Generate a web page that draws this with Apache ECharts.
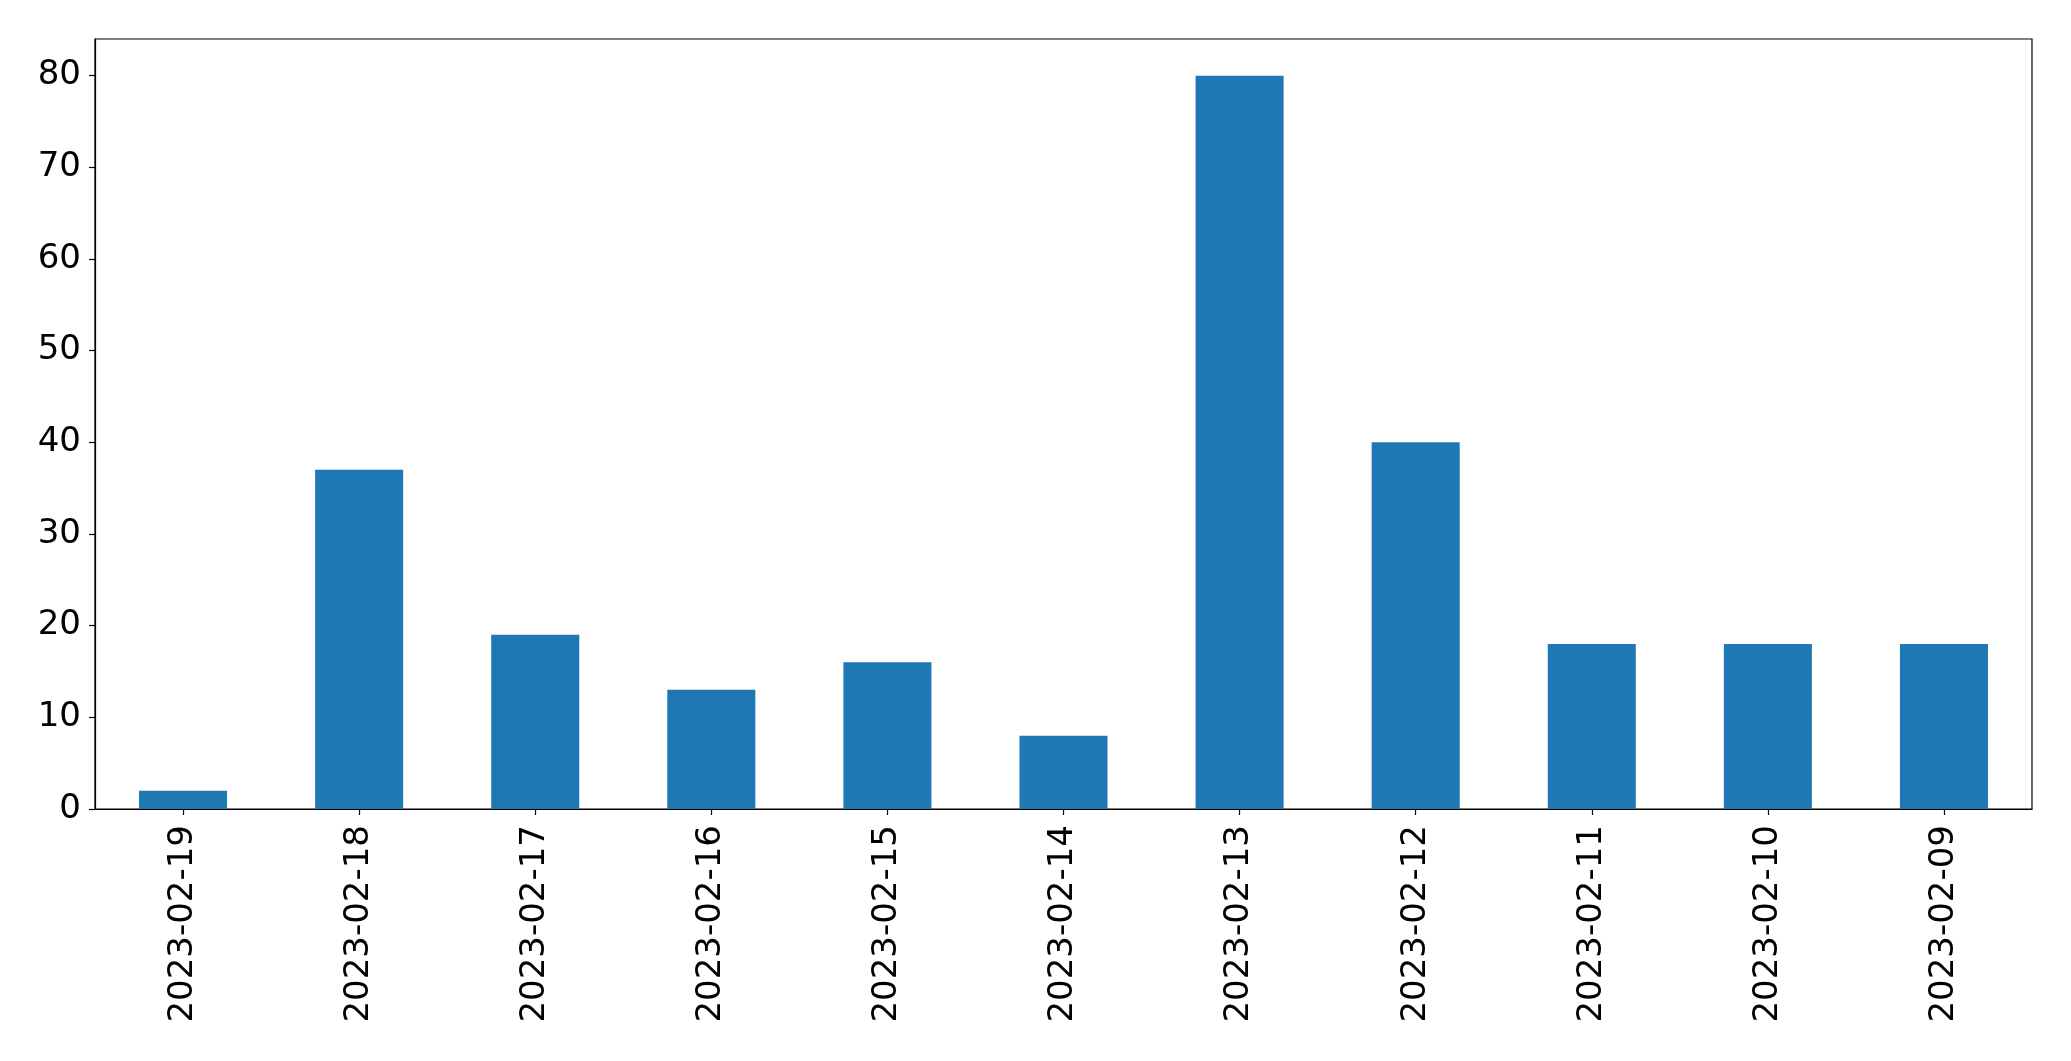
<!DOCTYPE html>
<html>
<head>
<meta charset="utf-8">
<script src="https://cdn.jsdelivr.net/npm/echarts@6/dist/echarts.min.js"></script>
<style>
html,body{margin:0;padding:0;background:#fff;}
#chart{width:2071px;height:1061px;}
</style>
</head>
<body>
<div id="chart"></div>
<script>
const categories = ['2023-02-19','2023-02-18','2023-02-17','2023-02-16','2023-02-15','2023-02-14','2023-02-13','2023-02-12','2023-02-11','2023-02-10','2023-02-09'];
const values = [2, 37, 19, 13, 16, 8, 80, 40, 18, 18, 18];
const yTicks = [0, 10, 20, 30, 40, 50, 60, 70, 80];

const chart = echarts.init(document.getElementById('chart'), null, {renderer: 'canvas'});
chart.setOption({
  animation: false,
  backgroundColor: '#fff',
  grid: {
    left: 95, top: 39, right: 39, bottom: 252,
    show: true, borderColor: '#000', borderWidth: 1.2, backgroundColor: 'transparent'
  },
  xAxis: {
    type: 'category',
    data: categories,
    boundaryGap: true,
    axisLine: {show: true, lineStyle: {color: '#000', width: 1.2}},
    axisTick: {show: true, alignWithLabel: true, length: 6, lineStyle: {color: '#000', width: 1.2}},
    axisLabel: {rotate: 90, margin: 16, color: '#000', fontSize: 34, fontFamily: 'DejaVu Sans', interval: 0},
    splitLine: {show: false}
  },
  yAxis: {
    type: 'value',
    min: 0, max: 84, interval: 10,
    axisLine: {show: true, lineStyle: {color: '#000', width: 1.2}},
    axisTick: {show: true, length: 6, customValues: yTicks, lineStyle: {color: '#000', width: 1.2}},
    axisLabel: {
      margin: 14, color: '#000', fontSize: 34, fontFamily: 'DejaVu Sans',
      customValues: yTicks,
      formatter: v => String(v)
    },
    splitLine: {show: false}
  },
  series: [{
    type: 'bar',
    data: values,
    barWidth: '50%',
    itemStyle: {color: '#1f77b4'}
  }]
});
</script>
</body>
</html>
